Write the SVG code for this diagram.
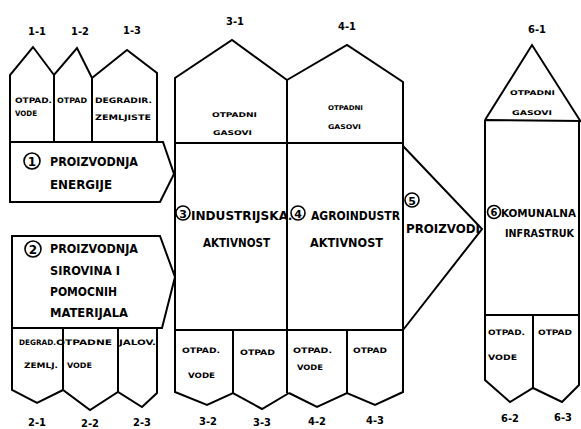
<svg xmlns="http://www.w3.org/2000/svg" width="581" height="429" viewBox="0 0 581 429">
<style>
.ln{fill:none;stroke:#000;stroke-width:2;stroke-linejoin:miter}
.t{font-family:"DejaVu Sans Condensed","Liberation Sans",sans-serif;font-weight:bold;fill:#000}
.big{font-size:12.5px}
.sm{font-size:7.5px}
.xs{font-size:6.5px}
.lab{font-size:11px;text-anchor:middle}
.c{fill:none;stroke:#000;stroke-width:1.6}
.cn{font-family:"DejaVu Sans","Liberation Sans",sans-serif;font-weight:bold;fill:#000;text-anchor:middle}
</style>
<rect width="581" height="429" fill="#fff"/>
<g id="connectors">
<path class="ln" d="M403,146 L482,229 L403,330"/>
</g>
<g id="node1">
<path class="ln" d="M10,142 L10,75 L33,47 L54,75 L77,48 L92,78 L127,50 L157,73 L157,142"/>
<path class="ln" d="M54,75 L54,142 M92,78 L92,142"/>
<path class="ln" d="M10,142 L163,142 L174,174 L160,202 L10,202 Z"/>
<text class="t lab" x="37" y="35">1-1</text>
<text class="t lab" x="80" y="35">1-2</text>
<text class="t lab" x="132" y="34">1-3</text>
<text class="t sm" x="15" y="103" textLength="37" lengthAdjust="spacingAndGlyphs">OTPAD.</text>
<text class="t sm" x="15" y="116" textLength="22" lengthAdjust="spacingAndGlyphs">VODE</text>
<text class="t sm" x="57" y="103" textLength="30" lengthAdjust="spacingAndGlyphs">OTPAD</text>
<text class="t sm" x="95" y="103" textLength="57" lengthAdjust="spacingAndGlyphs">DEGRADIR.</text>
<text class="t sm" x="95" y="120" textLength="56" lengthAdjust="spacingAndGlyphs">ZEMLJISTE</text>
<circle class="c" cx="32" cy="161" r="8"/>
<text class="cn" x="32" y="166" font-size="12">1</text>
<text class="t big" x="50" y="166" textLength="88" lengthAdjust="spacingAndGlyphs">PROIZVODNJA</text>
<text class="t big" x="50" y="189" textLength="62" lengthAdjust="spacingAndGlyphs">ENERGIJE</text>
</g>
<g id="node2">
<path class="ln" d="M12,236 L160,236 L175,277 L162,328 L12,328 Z"/>
<path class="ln" d="M12,328 L12,390 L37,403 L63,390 L90,410 L118,392 L142,407 L157,393 L157,328"/>
<path class="ln" d="M63,328 L63,390 M118,328 L118,392"/>
<circle class="c" cx="33" cy="249" r="8"/>
<text class="cn" x="33" y="254" font-size="12">2</text>
<text class="t big" x="50" y="253" textLength="88" lengthAdjust="spacingAndGlyphs">PROIZVODNJA</text>
<text class="t big" x="50" y="275" textLength="70" lengthAdjust="spacingAndGlyphs">SIROVINA I</text>
<text class="t big" x="50" y="296" textLength="67" lengthAdjust="spacingAndGlyphs">POMOCNIH</text>
<text class="t big" x="50" y="317" textLength="78" lengthAdjust="spacingAndGlyphs">MATERIJALA</text>
<text class="t sm" x="19" y="345" textLength="37" lengthAdjust="spacingAndGlyphs">DEGRAD.</text>
<text class="t sm" x="56" y="345" textLength="56" lengthAdjust="spacingAndGlyphs">OTPADNE</text>
<text class="t sm" x="119" y="345" textLength="37" lengthAdjust="spacingAndGlyphs">JALOV.</text>
<text class="t sm" x="24" y="368" textLength="34" lengthAdjust="spacingAndGlyphs">ZEMLJ.</text>
<text class="t sm" x="67" y="368" textLength="25" lengthAdjust="spacingAndGlyphs">VODE</text>
<text class="t lab" x="37" y="426">2-1</text>
<text class="t lab" x="90" y="427">2-2</text>
<text class="t lab" x="142" y="426">2-3</text>
</g>
<g id="node3">
<path class="ln" d="M287,80 L232,40 L175,78 L175,392 L207,405 L233,393 L262,409 L289,393"/>
<path class="ln" d="M175,143 L287,143 M175,330 L287,330 M233,330 L233,393 M287,80 L287,393"/>
<text class="t lab" x="235" y="25">3-1</text>
<text class="t xs" x="212" y="117" textLength="45" lengthAdjust="spacingAndGlyphs">OTPADNI</text>
<text class="t xs" x="213" y="135" textLength="39" lengthAdjust="spacingAndGlyphs">GASOVI</text>
<circle class="c" cx="183" cy="213" r="7"/>
<text class="cn" x="183" y="217.5" font-size="11">3</text>
<text class="t big" x="191" y="220" textLength="97" lengthAdjust="spacingAndGlyphs">INDUSTRIJSKA</text>
<text class="t big" x="203" y="247" textLength="67" lengthAdjust="spacingAndGlyphs">AKTIVNOST</text>
<text class="t sm" x="182" y="353" textLength="38" lengthAdjust="spacingAndGlyphs">OTPAD.</text>
<text class="t sm" x="188" y="378" textLength="27" lengthAdjust="spacingAndGlyphs">VODE</text>
<text class="t sm" x="240" y="355" textLength="35" lengthAdjust="spacingAndGlyphs">OTPAD</text>
<text class="t lab" x="208" y="425">3-2</text>
<text class="t lab" x="262" y="426">3-3</text>
</g>
<g id="node4">
<path class="ln" d="M287,80 L347,45 L403,82 L403,392 L375,405 L347,393 L317,407 L289,393"/>
<path class="ln" d="M287,143 L403,143 M287,330 L403,330 M347,330 L347,393"/>
<text class="t lab" x="347" y="30">4-1</text>
<text class="t xs" x="328" y="110" textLength="35" lengthAdjust="spacingAndGlyphs">OTPADNI</text>
<text class="t xs" x="328" y="129" textLength="33" lengthAdjust="spacingAndGlyphs">GASOVI</text>
<text class="t big" x="288" y="220">.</text>
<circle class="c" cx="298" cy="213" r="7"/>
<text class="cn" x="298" y="217.5" font-size="11">4</text>
<text class="t big" x="311" y="220" textLength="89" lengthAdjust="spacingAndGlyphs">AGROINDUSTR</text>
<text class="t big" x="310" y="247" textLength="73" lengthAdjust="spacingAndGlyphs">AKTIVNOST</text>
<text class="t sm" x="293" y="353" textLength="39" lengthAdjust="spacingAndGlyphs">OTPAD.</text>
<text class="t sm" x="297" y="370" textLength="26" lengthAdjust="spacingAndGlyphs">VODE</text>
<text class="t sm" x="353" y="353" textLength="34" lengthAdjust="spacingAndGlyphs">OTPAD</text>
<text class="t lab" x="317" y="425">4-2</text>
<text class="t lab" x="375" y="424">4-3</text>
</g>
<g id="node5">
<circle class="c" cx="412" cy="200" r="7"/>
<text class="cn" x="412" y="204.5" font-size="11">5</text>
<text class="t big" x="406" y="233" textLength="74" lengthAdjust="spacingAndGlyphs">PROIZVODI</text>
</g>
<g id="node6">
<path class="ln" d="M485,120 L532,45 L581,122"/>
<path class="ln" d="M485,120 L581,121 M485,120 L485,380 L510,402 L533,388 L562,402 L579,385 L579,121 M485,315 L579,315 M533,315 L533,388"/>
<text class="t lab" x="537" y="33">6-1</text>
<text class="t xs" x="510" y="95" textLength="45" lengthAdjust="spacingAndGlyphs">OTPADNI</text>
<text class="t xs" x="512" y="115" textLength="40" lengthAdjust="spacingAndGlyphs">GASOVI</text>
<circle class="c" cx="494" cy="212" r="6.5"/>
<text class="cn" x="494" y="216" font-size="10">6</text>
<text class="t" font-size="11" x="501" y="217" textLength="75" lengthAdjust="spacingAndGlyphs">KOMUNALNA</text>
<text class="t" font-size="10.5" x="505" y="237" textLength="69" lengthAdjust="spacingAndGlyphs">INFRASTRUK</text>
<text class="t sm" x="488" y="335" textLength="37" lengthAdjust="spacingAndGlyphs">OTPAD.</text>
<text class="t sm" x="488" y="360" textLength="29" lengthAdjust="spacingAndGlyphs">VODE</text>
<text class="t sm" x="538" y="335" textLength="34" lengthAdjust="spacingAndGlyphs">OTPAD</text>
<text class="t lab" x="510" y="422">6-2</text>
<text class="t lab" x="563" y="421">6-3</text>
</g>
</svg>
